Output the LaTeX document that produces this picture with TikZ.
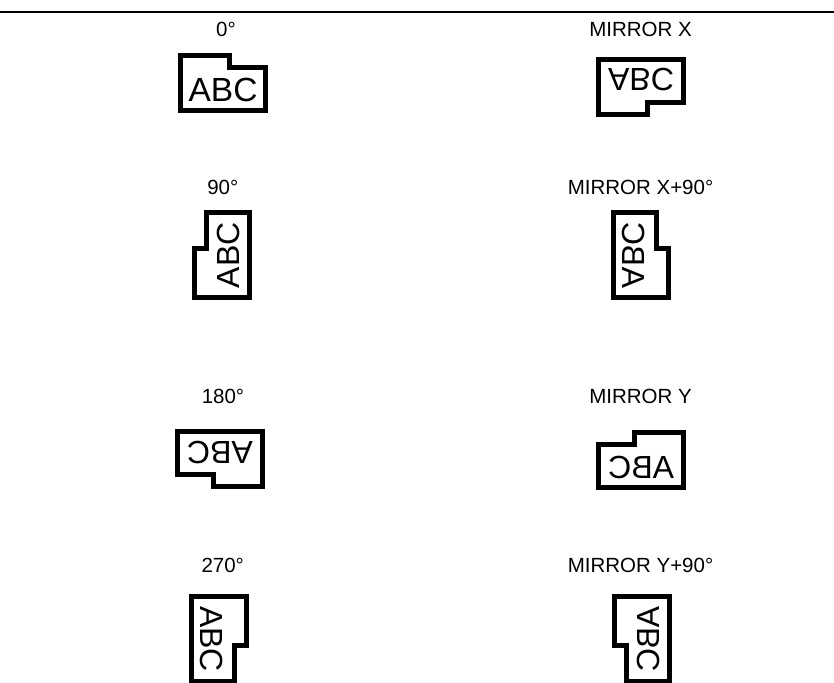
\documentclass[tikz,border=0pt]{standalone}
\usepackage{fontspec}
\setmainfont{Liberation Sans}
\usetikzlibrary{positioning}

\begin{document}
\begin{tikzpicture}[x=1pt, y=1pt,
        caption/.style={inner sep=0pt, font=\fontsize{20.5}{24}\selectfont},
        tagtext/.style={inner sep=0pt, transform shape, font=\fontsize{32}{38}\selectfont},
        tag/.pic={
            \draw[line width=5pt, miter limit=10] (-42.5,-27.5) -- (-42.5,27.5) -- (6.5,27.5)
                -- (6.5,15.5) -- (42.5,15.5) -- (42.5,-27.5) -- cycle;
            \node[tagtext] (-txt) at (0,-7) {ABC};
        }]
        \useasboundingbox (0,0) rectangle (834,682);

        % rule on top
        \coordinate (ruleL) at (0,670);
        \coordinate (ruleR) at (834,670);
        \draw[line width=2.2pt] (ruleL) -- (ruleR);

        % left column
        \node[caption] (cap0) at (226,653) {0°};
        \pic[tagtext/.append style={font=\fontsize{33.5}{38}\selectfont}] (tag0) at (223,599) {tag};
        \node[caption] (cap90) at (222.8,495) {90°};
        \pic[rotate=90] (tag90) at (221.7,426.7) {tag};
        \node[caption] (cap180) at (223,286) {180°};
        \pic[rotate=180] (tag180) at (220,222.7) {tag};
        \node[caption] (cap270) at (222.7,116.3) {270°};
        \pic[rotate=-90] (tag270) at (218.8,43) {tag};

        % right column
        \node[caption] (capX) at (640.5,653) {MIRROR X};
        \pic[yscale=-1] (tagX) at (641,595) {tag};
        \node[caption] (capX90) at (640.5,495) {MIRROR X+90°};
        \pic[rotate=90, yscale=-1] (tagX90) at (640.8,426.7) {tag};
        \node[caption] (capY) at (640.5,286) {MIRROR Y};
        \pic[xscale=-1] (tagY) at (641.2,221.7) {tag};
        \node[caption] (capY90) at (640.5,116.3) {MIRROR Y+90°};
        \pic[rotate=-90, yscale=-1] (tagY90) at (641.8,43) {tag};
    \end{tikzpicture}
\end{document}
